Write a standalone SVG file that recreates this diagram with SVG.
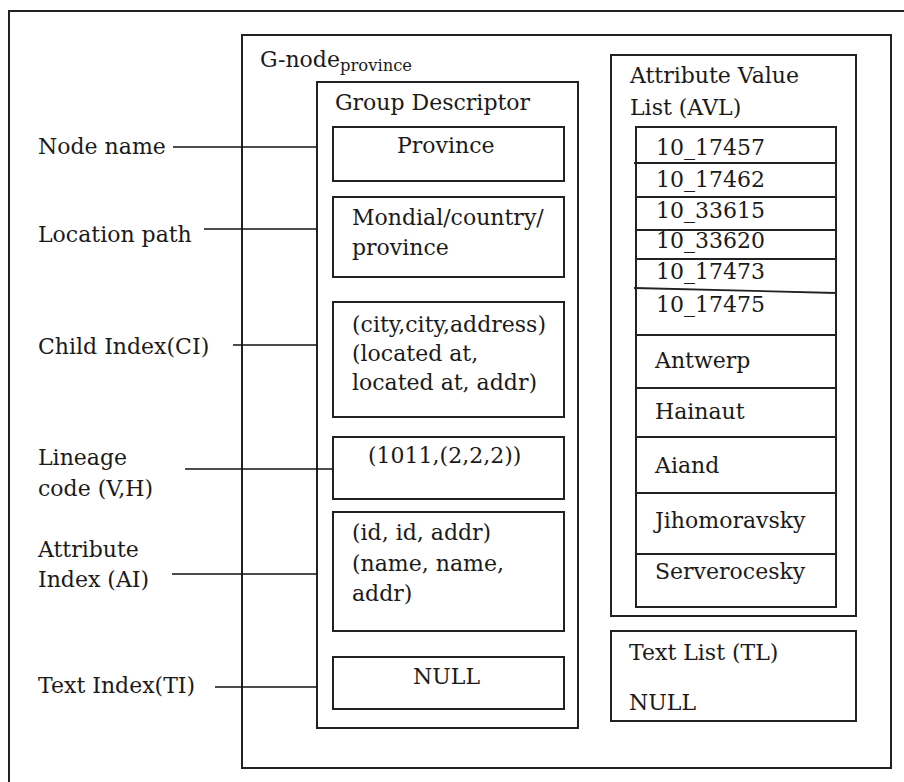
<svg xmlns="http://www.w3.org/2000/svg" width="904" height="782" viewBox="0 0 904 782">
  <style>
    .box { fill: #ffffff; stroke: #222222; stroke-width: 2; }
    .sep { fill: none; stroke: #222222; stroke-width: 1.8; }
    .wire { fill: none; stroke: #111111; stroke-width: 1.6; }
    text { font-family: "DejaVu Serif", "Liberation Serif", serif; font-size: 22px; fill: #1a1a1a; }
    .sub { font-size: 16.4px; }
  </style>
  <rect width="904" height="782" fill="#ffffff"/>

  <!-- outer frame -->
  <rect id="frame" class="box" x="9" y="11" width="930" height="800"/>

  <!-- G-node container -->
  <g id="gnode">
    <rect class="box" x="242" y="35" width="649" height="733"/>
    <text x="260" y="67">G-node<tspan class="sub" dy="4">province</tspan></text>
  </g>

  <!-- group descriptor -->
  <g id="group-descriptor">
    <rect class="box" x="317" y="82" width="261" height="646"/>
    <text x="335" y="110">Group Descriptor</text>
  </g>

  <g id="node-name-box">
    <rect class="box" x="333" y="127" width="231" height="54"/>
    <text x="397" y="153">Province</text>
  </g>

  <g id="location-path-box">
    <rect class="box" x="333" y="197" width="231" height="80"/>
    <text x="352" y="225">Mondial/country/</text>
    <text x="352" y="255">province</text>
  </g>

  <g id="child-index-box">
    <rect class="box" x="333" y="302" width="231" height="115"/>
    <text x="352" y="332">(city,city,address)</text>
    <text x="352" y="361">(located at,</text>
    <text x="352" y="390">located at, addr)</text>
  </g>

  <g id="lineage-box">
    <rect class="box" x="333" y="437" width="231" height="62"/>
    <text x="368" y="463">(1011,(2,2,2))</text>
  </g>

  <g id="attribute-index-box">
    <rect class="box" x="333" y="512" width="231" height="119"/>
    <text x="352" y="540">(id, id, addr)</text>
    <text x="352" y="571">(name, name,</text>
    <text x="352" y="601">addr)</text>
  </g>

  <g id="text-index-box">
    <rect class="box" x="333" y="657" width="231" height="52"/>
    <text x="413" y="684">NULL</text>
  </g>

  <!-- attribute value list -->
  <g id="avl">
    <rect class="box" x="611" y="55" width="245" height="561"/>
    <text x="630" y="83">Attribute Value</text>
    <text x="630" y="115">List (AVL)</text>
    <rect class="box" x="636" y="127" width="200" height="480"/>
    <line class="sep" x1="634" y1="163" x2="836" y2="163"/>
    <line class="sep" x1="636" y1="197" x2="836" y2="197"/>
    <line class="sep" x1="636" y1="230" x2="836" y2="230"/>
    <line class="sep" x1="636" y1="259" x2="836" y2="259"/>
    <line class="sep" x1="634" y1="288" x2="836" y2="293"/>
    <line class="sep" x1="636" y1="335" x2="836" y2="335"/>
    <line class="sep" x1="636" y1="388" x2="836" y2="388"/>
    <line class="sep" x1="636" y1="437" x2="836" y2="437"/>
    <line class="sep" x1="636" y1="493" x2="836" y2="493"/>
    <line class="sep" x1="636" y1="554" x2="836" y2="554"/>
    <text x="656" y="155">10_17457</text>
    <text x="656" y="187">10_17462</text>
    <text x="656" y="218">10_33615</text>
    <text x="656" y="248">10_33620</text>
    <text x="656" y="279">10_17473</text>
    <text x="656" y="312">10_17475</text>
    <text x="655" y="368">Antwerp</text>
    <text x="655" y="419">Hainaut</text>
    <text x="655" y="473">Aiand</text>
    <text x="655" y="528">Jihomoravsky</text>
    <text x="655" y="579">Serverocesky</text>
  </g>

  <!-- text list -->
  <g id="text-list">
    <rect class="box" x="611" y="631" width="245" height="90"/>
    <text x="629" y="660">Text List (TL)</text>
    <text x="629" y="710">NULL</text>
  </g>

  <!-- field labels -->
  <g id="label-node-name"><text x="38" y="154">Node name</text></g>
  <g id="label-location-path"><text x="38" y="242">Location path</text></g>
  <g id="label-child-index"><text x="38" y="354">Child Index(CI)</text></g>
  <g id="label-lineage">
    <text x="38" y="465">Lineage</text>
    <text x="38" y="496">code (V,H)</text>
  </g>
  <g id="label-attribute-index">
    <text x="38" y="557">Attribute</text>
    <text x="38" y="587">Index (AI)</text>
  </g>
  <g id="label-text-index"><text x="38" y="693">Text Index(TI)</text></g>

  <!-- leader lines from labels to fields -->
  <g id="connectors">
    <line class="wire" x1="173" y1="147" x2="317" y2="147"/>
    <line class="wire" x1="204" y1="229" x2="317" y2="229"/>
    <line class="wire" x1="233" y1="345" x2="317" y2="345"/>
    <line class="wire" x1="185" y1="469" x2="333" y2="469"/>
    <line class="wire" x1="172" y1="574" x2="317" y2="574"/>
    <line class="wire" x1="215" y1="687" x2="317" y2="687"/>
  </g>
</svg>
